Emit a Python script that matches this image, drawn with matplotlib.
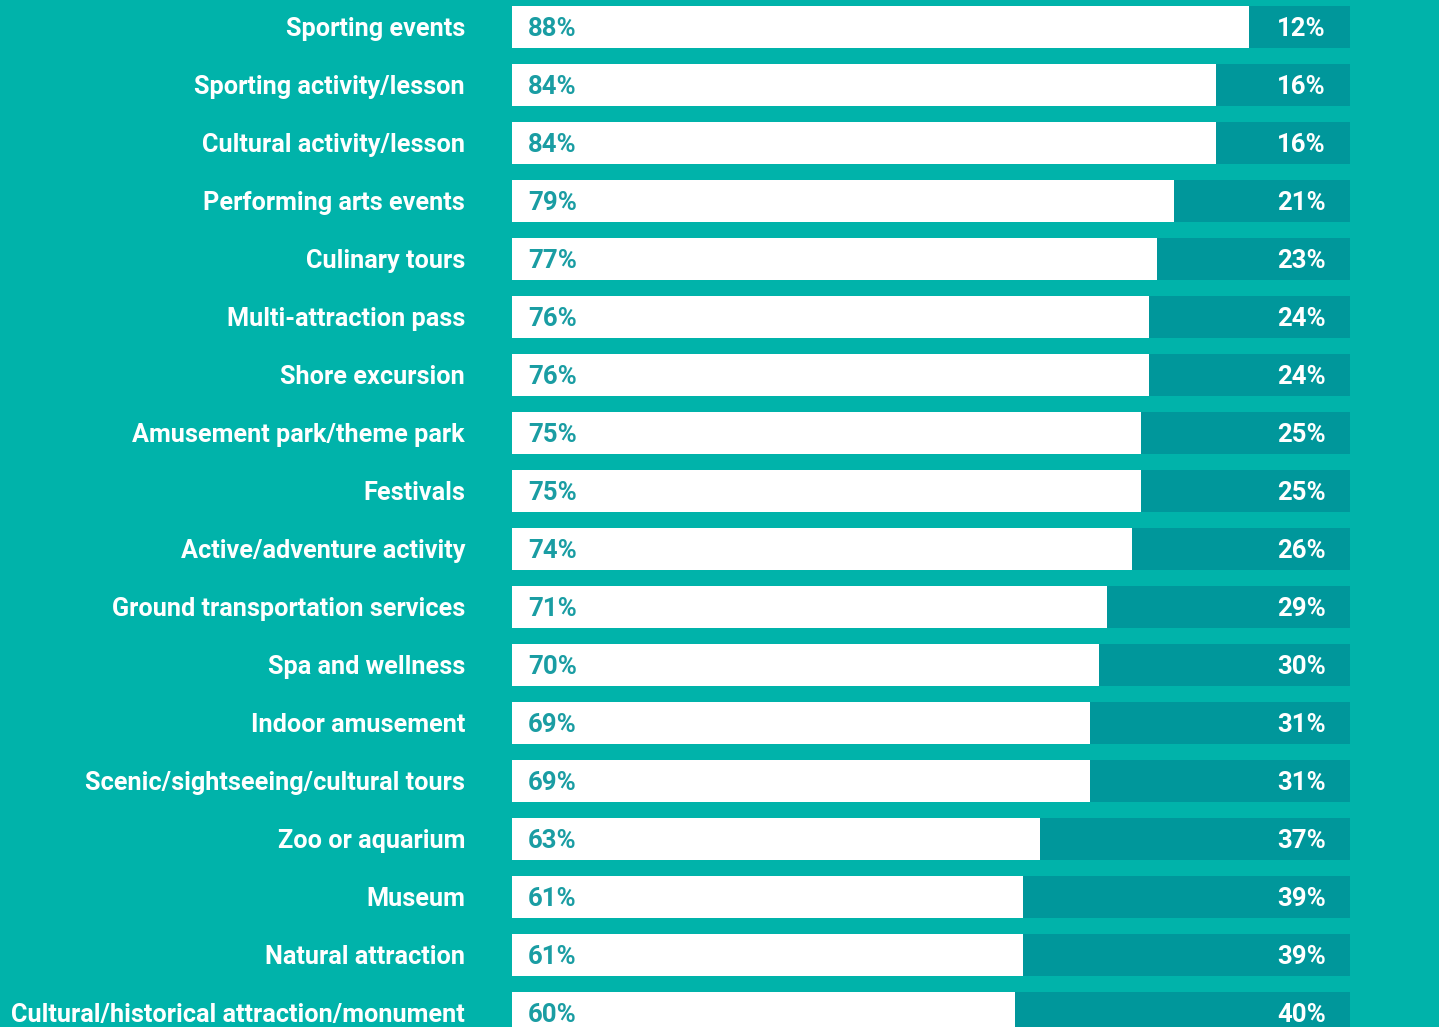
import matplotlib.pyplot as plt
import matplotlib.transforms as mtransforms

# Share of respondents per activity type (yes / no split, percent)
categories = [
    'Sporting events', 'Sporting activity/lesson', 'Cultural activity/lesson',
    'Performing arts events', 'Culinary tours', 'Multi-attraction pass',
    'Shore excursion', 'Amusement park/theme park', 'Festivals',
    'Active/adventure activity', 'Ground transportation services',
    'Spa and wellness', 'Indoor amusement', 'Scenic/sightseeing/cultural tours',
    'Zoo or aquarium', 'Museum', 'Natural attraction',
    'Cultural/historical attraction/monument',
]
share_a = [88, 84, 84, 79, 77, 76, 76, 75, 75, 74, 71, 70, 69, 69, 63, 61, 61, 60]
share_b = [12, 16, 16, 21, 23, 24, 24, 25, 25, 26, 29, 30, 31, 31, 37, 39, 39, 40]

BG = '#00B3AA'
DARK = '#00979B'
TEXT_TEAL = '#1A9DA3'

plt.rcParams['font.family'] = ['Roboto', 'DejaVu Sans']

W, H = 1439, 1027
fig = plt.figure(figsize=(W / 100, H / 100), dpi=100, facecolor=BG)
ax = fig.add_axes([512 / W, 0, 838 / W, 1])
ax.set_facecolor(BG)

rows = list(range(len(categories)))
ax.barh(rows, share_a, height=0.724, color='white', linewidth=0)
ax.barh(rows, share_b, left=share_a, height=0.724, color=DARK, linewidth=0)

ax.set_xlim(0, 100)
ax.set_ylim((H - 27) / 58, -27 / 58)
ax.axis('off')

# baseline sits a little below the bar centre so the caps look centred
base = 0.155
trans = mtransforms.blended_transform_factory(ax.transAxes, ax.transData)
for i, (cat, a, b) in enumerate(zip(categories, share_a, share_b)):
    ax.text(-0.056, i + base, cat, transform=trans, ha='right', va='baseline',
            color='white', fontsize=18.2, fontweight='bold', clip_on=False)
    ax.text(1.9, i + base, f'{a}%', ha='left', va='baseline',
            color=TEXT_TEAL, fontsize=18.5, fontweight='bold')
    ax.text(97.1, i + base, f'{b}%', ha='right', va='baseline',
            color='white', fontsize=18.5, fontweight='bold')

fig.savefig('out.png', dpi=100, facecolor=BG)
